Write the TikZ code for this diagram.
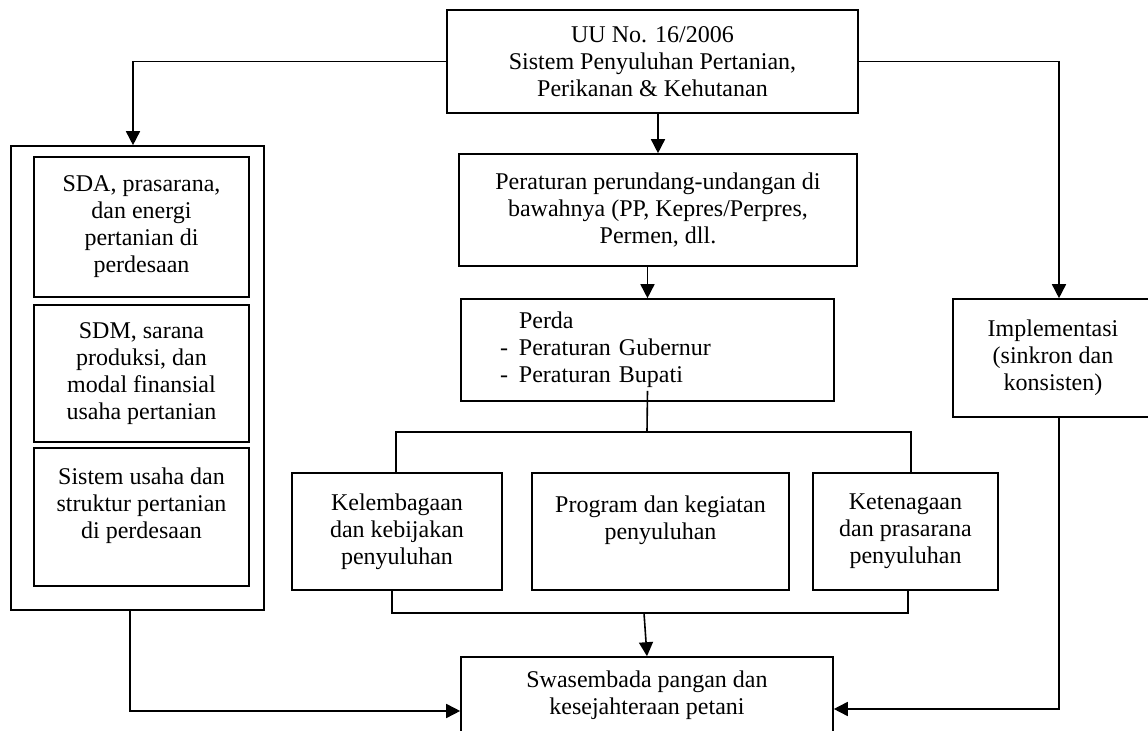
\documentclass[tikz,border=0pt]{standalone}
\usepackage{fontspec}
\setmainfont{Liberation Serif}
\usetikzlibrary{arrows.meta}

\begin{document}
\begin{tikzpicture}[x=0.5pt, y=-0.5pt, line width=0.8pt,
    every node/.style={font=\fontsize{12}{13.5}\selectfont, align=center},
    box/.style={draw, rectangle, inner sep=0pt},
    arr/.style={-{Triangle[length=7pt,width=7pt]}}]
    \useasboundingbox (0,0) rectangle (1148,731);

    % law at the top
    \node[box, minimum width=205.5pt, minimum height=51.5pt] (uu) at (652.5,61.5)
        {UU No. 16/2006\\Sistem Penyuluhan Pertanian,\\Perikanan \& Kehutanan};

    % left column
    \node[box, minimum width=126.5pt, minimum height=232pt] (outer) at (137.5,378) {};
    \node[box, minimum width=107.5pt, minimum height=70pt] (sda) at (141.5,227)
        {SDA, prasarana,\\dan energi\\pertanian di\\perdesaan};
    \node[box, minimum width=107.5pt, minimum height=68.5pt] (sdm) at (141.5,373.5)
        {SDM, sarana\\produksi, dan\\modal finansial\\usaha pertanian};
    \node[box, minimum width=107.5pt, minimum height=69pt] (usaha) at (141.5,517)
        {Sistem usaha dan\\struktur pertanian\\di perdesaan\\~};

    % middle column
    \node[box, minimum width=199pt, minimum height=56pt] (peraturan) at (658,210)
        {Peraturan perundang-undangan di\\bawahnya (PP, Kepres/Perpres,\\Permen, dll.};
    \node[box, align=left, text width=147.5pt, inner xsep=19.5pt, minimum height=51pt] (perda) at (647.5,350)
        {\makebox[9.5pt][l]{}Perda\\\makebox[9.5pt][l]{-}Peraturan Gubernur\\\makebox[9.5pt][l]{-}Peraturan Bupati};

    \node[box, minimum width=105pt, minimum height=58.5pt] (lembaga) at (397,531.5)
        {Kelembagaan\\dan kebijakan\\penyuluhan};
    \node[box, minimum width=128.5pt, minimum height=58.5pt] (program) at (660.5,531.5)
        {Program dan kegiatan\\penyuluhan\\~};
    \node[box, minimum width=92.5pt, minimum height=58.5pt] (tenaga) at (905.5,531.5)
        {Ketenagaan\\dan prasarana\\penyuluhan};

    \node[box, minimum width=186pt, minimum height=38pt] (swasembada) at (647,695)
        {Swasembada pangan dan\\kesejahteraan petani};

    % right column
    \node[box, minimum width=100pt, minimum height=59pt] (impl) at (1053,358)
        {Implementasi\\(sinkron dan\\konsisten)};

    \coordinate (fork) at (647,432);
    \coordinate (join) at (644,613);

    % connectors
    \draw[arr] (uu.west) -| ([xshift=-2.25pt]outer.north);
    \draw[arr] (uu.east) -| ([xshift=3pt]impl.north);
    \draw[arr] (peraturan.north |- uu.south) -- (peraturan.north);
    \draw[arr] (perda.north |- peraturan.south) -- (perda.north);
    \draw ([yshift=5.5pt]perda.south) -- (fork);
    \draw ([xshift=-0.5pt]lembaga.north) |- (fork) -| ([xshift=2.75pt]tenaga.north);
    \draw ([xshift=-2.5pt]lembaga.south) |- (join) -| ([xshift=1.25pt]tenaga.south);
    \draw[arr] (join) -- (swasembada.north);
    \draw[arr] ([xshift=-3.75pt]outer.south) |- ([yshift=-8pt]swasembada.west);
    \draw[arr] ([xshift=3pt]impl.south) |- ([yshift=-7pt]swasembada.east);
\end{tikzpicture}
\end{document}
